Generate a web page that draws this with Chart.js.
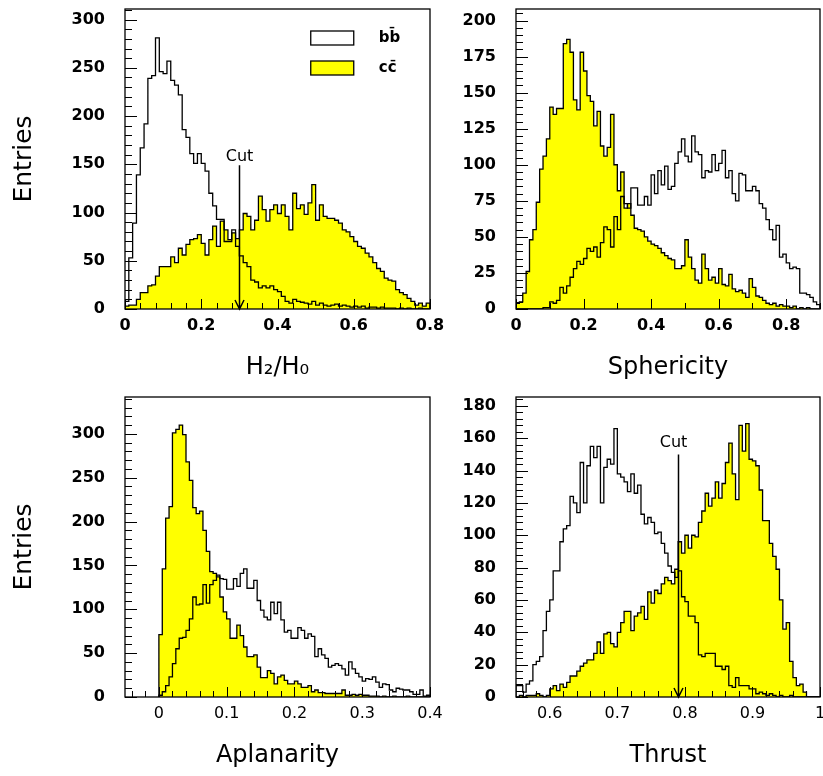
<!DOCTYPE html>
<html>
<head>
<meta charset="utf-8">
<script src="https://cdn.jsdelivr.net/npm/chart.js@4.4.1/dist/chart.umd.min.js"></script>
<style>
    body { margin: 0; background: #fff; width: 823px; height: 776px; position: relative; overflow: hidden; }
    .panel { position: absolute; }
</style>
</head>
<body>
<div class="panel" style="left:0;top:0"><canvas id="h2h0" width="455" height="388"></canvas></div>
<div class="panel" style="left:455px;top:0"><canvas id="sphericity" width="368" height="388"></canvas></div>
<div class="panel" style="left:0;top:388px"><canvas id="aplanarity" width="455" height="388"></canvas></div>
<div class="panel" style="left:455px;top:388px"><canvas id="thrust" width="368" height="388"></canvas></div>
<script>
// H2/H0: 80 bins of 0.01 from 0
const h2h0Lo = 0, h2h0Step = 0.01;
const h2h0BB = [8, 53, 89, 139, 167, 192, 239, 242, 281, 246, 244, 257, 237, 232, 222, 186, 178, 161, 151, 161,
    151, 143, 120, 107, 93, 93, 70, 70, 82, 65, 55, 48, 44, 30, 28, 22, 24, 22, 24, 20,
    18, 13, 8, 6, 10, 8, 7, 6, 5, 8, 4, 6, 4, 3, 4, 5, 3, 4, 3, 2,
    3, 2, 3, 1, 2, 2, 1, 2, 1, 1, 1, 0, 1, 0, 1, 0, 0, 1, 0, 0];
const h2h0CC = [3, 4, 4, 10, 17, 17, 24, 25, 34, 44, 44, 44, 54, 48, 63, 56, 67, 72, 73, 77,
    68, 56, 72, 86, 65, 91, 82, 72, 79, 73, 82, 99, 96, 82, 92, 117, 103, 91, 103, 108,
    99, 108, 96, 82, 120, 104, 108, 98, 110, 129, 92, 108, 96, 94, 94, 92, 89, 82, 80, 75,
    70, 65, 63, 58, 54, 48, 42, 39, 32, 30, 29, 20, 17, 15, 11, 8, 4, 6, 3, 6];

// Sphericity: 90 bins of 0.01 from 0
const sphLo = 0, sphStep = 0.01;
const sphBB = [0, 0, 0, 0, 0, 0, 0, 0, 1, 1, 5, 4, 6, 15, 11, 16, 22, 28, 33, 31,
    35, 42, 40, 43, 36, 46, 57, 55, 43, 64, 55, 78, 73, 70, 84, 84, 72, 72, 78, 72,
    93, 80, 96, 86, 99, 83, 85, 101, 109, 118, 106, 102, 120, 109, 107, 91, 96, 95, 107, 96,
    101, 110, 91, 96, 80, 75, 94, 93, 82, 82, 85, 82, 73, 70, 62, 55, 48, 58, 36, 38,
    32, 28, 29, 28, 11, 11, 10, 8, 5, 3];
const sphCC = [4, 5, 11, 26, 48, 55, 74, 97, 106, 118, 140, 135, 139, 139, 184, 187, 178, 145, 138, 178,
    165, 148, 144, 127, 137, 113, 106, 112, 135, 100, 82, 95, 70, 73, 65, 56, 55, 54, 50, 47,
    45, 44, 42, 39, 37, 35, 34, 28, 28, 30, 48, 36, 28, 20, 18, 38, 28, 20, 22, 18,
    28, 17, 16, 24, 14, 12, 13, 11, 8, 21, 15, 9, 8, 6, 4, 3, 4, 2, 3, 2,
    2, 1, 2, 0, 1, 0, 1, 0, 0, 0];

// Aplanarity: 80 bins of 0.005 from 0
const aplLo = 0, aplStep = 0.005;
const aplBB = [2, 6, 13, 23, 38, 55, 67, 68, 76, 89, 114, 105, 106, 128, 107, 128, 133, 139, 135, 134,
    123, 123, 135, 126, 141, 146, 124, 124, 133, 110, 99, 91, 88, 108, 95, 108, 88, 74, 76, 67,
    67, 79, 76, 67, 72, 69, 46, 55, 48, 44, 34, 36, 38, 36, 32, 25, 40, 32, 27, 23,
    18, 21, 20, 23, 17, 11, 15, 14, 8, 6, 10, 9, 8, 8, 6, 3, 3, 8, 1, 2];
const aplCC = [71, 146, 204, 217, 301, 305, 310, 299, 268, 247, 216, 209, 212, 190, 166, 143, 141, 137, 114, 97,
    89, 67, 67, 82, 70, 57, 46, 46, 48, 34, 22, 22, 30, 27, 15, 23, 25, 19, 15, 15,
    18, 15, 11, 11, 13, 6, 8, 5, 5, 4, 4, 4, 4, 4, 8, 2, 2, 3, 2, 3,
    2, 2, 1, 1, 1, 0, 1, 0, 0, 1, 0, 0, 0, 1, 0, 0, 0, 0, 0, 0];

// Thrust: 90 bins of 0.005 from 0.55
const thrLo = 0.55, thrStep = 0.005;
const thrBB = [7, 7, 3, 8, 10, 20, 22, 25, 41, 53, 60, 78, 78, 96, 104, 106, 124, 120, 114, 145,
    120, 143, 155, 148, 155, 120, 142, 147, 144, 166, 138, 136, 133, 127, 138, 126, 131, 113, 107, 111,
    108, 101, 102, 95, 89, 81, 77, 74, 78, 62, 59, 50, 50, 46, 26, 25, 27, 27, 27, 19,
    19, 17, 19, 7, 6, 12, 7, 7, 7, 5, 5, 2, 3, 2, 1, 2, 1, 0, 1, 0,
    0, 1, 0, 0, 0, 0, 0, 0, 0, 0];
const thrCC = [0, 1, 0, 1, 1, 1, 2, 1, 0, 1, 5, 7, 4, 8, 6, 9, 13, 13, 16, 19,
    21, 23, 23, 27, 34, 27, 39, 40, 33, 31, 40, 46, 53, 53, 41, 50, 52, 56, 48, 65,
    58, 66, 64, 70, 74, 72, 70, 79, 96, 89, 100, 92, 100, 99, 108, 115, 126, 118, 123, 133,
    123, 132, 145, 157, 138, 122, 168, 152, 169, 147, 146, 143, 128, 109, 109, 95, 87, 79, 60, 42,
    46, 22, 12, 7, 8, 3, 0, 0, 0, 0];

const seriesLabels = ['b\u0062\u0304', 'c\u0063\u0304'];

Chart.defaults.font.family = '"DejaVu Sans", sans-serif';
Chart.defaults.color = '#000';

// turn bin contents into outline points for a stepped line
function histPoints(lo, step, counts) {
    const hi = lo + counts.length * step;
    const pts = [{ x: lo, y: 0 }];
    counts.forEach((c, i) => pts.push({ x: lo + i * step, y: c }));
    pts.push({ x: hi, y: counts[counts.length - 1] });
    pts.push({ x: hi, y: 0 });
    return pts;
}

function onStep(v, step) {
    return Math.abs(v / step - Math.round(v / step)) < 1e-6;
}

// frame + inward ticks, PAW style
const frameTicks = {
    id: 'frameTicks',
    afterDatasetsDraw(chart, args, o) {
        const { ctx, chartArea: a, scales: { x, y } } = chart;
        ctx.save();
        ctx.strokeStyle = '#000';
        ctx.lineWidth = 1;
        ctx.beginPath();
        const ny = Math.floor(y.max / o.yMinor + 1e-6);
        for (let i = 0; i <= ny; i++) {
            const v = i * o.yMinor;
            const py = Math.round(y.getPixelForValue(v)) + 0.5;
            ctx.moveTo(a.left, py);
            ctx.lineTo(a.left + (onStep(v, o.yMajor) ? 12 : 7), py);
        }
        const i0 = Math.ceil(x.min / o.xMinor - 1e-6);
        const i1 = Math.floor(x.max / o.xMinor + 1e-6);
        for (let i = i0; i <= i1; i++) {
            const v = i * o.xMinor;
            const px = Math.round(x.getPixelForValue(v)) + 0.5;
            ctx.moveTo(px, a.bottom);
            ctx.lineTo(px, a.bottom - (onStep(v, o.xMajor) ? 10 : 6));
        }
        ctx.stroke();
        ctx.lineWidth = 1.3;
        ctx.strokeRect(a.left, a.top, a.right - a.left, a.bottom - a.top);
        ctx.restore();
    },
};

const cutArrow = {
    id: 'cutArrow',
    afterDatasetsDraw(chart, args, o) {
        if (o.at == null) return;
        const { ctx, scales: { x, y } } = chart;
        const px = Math.round(x.getPixelForValue(o.at)) + 0.5;
        const top = y.getPixelForValue(o.top);
        const bot = y.getPixelForValue(0);
        ctx.save();
        ctx.strokeStyle = '#000';
        ctx.lineWidth = 1.5;
        ctx.beginPath();
        ctx.moveTo(px, top);
        ctx.lineTo(px, bot);
        ctx.moveTo(px - 4.5, bot - 9);
        ctx.lineTo(px, bot);
        ctx.lineTo(px + 4.5, bot - 9);
        ctx.stroke();
        ctx.fillStyle = '#000';
        ctx.font = '16px "DejaVu Sans"';
        ctx.textAlign = 'center';
        ctx.textBaseline = 'alphabetic';
        ctx.fillText('Cut', px + (o.dx || 0), top - o.gap);
        ctx.restore();
    },
};

const boxLegend = {
    id: 'boxLegend',
    afterDatasetsDraw(chart, args, o) {
        if (!o.show) return;
        const { ctx, chartArea: a } = chart;
        const x0 = a.left + o.left * (a.right - a.left);
        ctx.save();
        ctx.lineWidth = 1.3;
        ctx.strokeStyle = '#000';
        ctx.font = 'bold 15px "DejaVu Sans"';
        ctx.textBaseline = 'middle';
        ctx.textAlign = 'left';
        chart.data.datasets.forEach((ds, i) => {
            const y0 = a.top + o.top + i * o.gap;
            ctx.fillStyle = ds.fill ? ds.backgroundColor : '#fff';
            ctx.fillRect(x0, y0, o.w, o.h);
            ctx.strokeRect(x0, y0, o.w, o.h);
            ctx.fillStyle = '#000';
            ctx.fillText(ds.label, x0 + o.w + 25, y0 + o.h / 2);
        });
        ctx.restore();
    },
};

function renderPanel(id, p) {
    const canvas = document.getElementById(id);

    return new Chart(canvas, {
        type: 'line',
        data: {
            datasets: [
                {
                    label: seriesLabels[0],
                    data: histPoints(p.lo, p.step, p.bb),
                    stepped: 'before',
                    borderColor: '#000',
                    borderWidth: 1.3,
                    fill: false,
                    pointRadius: 0,
                    order: 0,
                },
                {
                    label: seriesLabels[1],
                    data: histPoints(p.lo, p.step, p.cc),
                    stepped: 'before',
                    borderColor: '#000',
                    backgroundColor: '#ffff00',
                    borderWidth: 1.3,
                    fill: 'origin',
                    pointRadius: 0,
                    order: 1,
                },
            ],
        },
        options: {
            responsive: false,
            animation: false,
            events: [],
            layout: { padding: { top: 9, right: p.padRight, left: 0, bottom: 0 } },
            plugins: {
                legend: { display: false },
                tooltip: { enabled: false },
                frameTicks: { xMinor: p.xMinor, xMajor: p.xStep, yMinor: p.yMinor, yMajor: p.yStep },
                cutArrow: p.cut || {},
                boxLegend: p.legend || {},
            },
            scales: {
                x: {
                    type: 'linear',
                    min: p.xMin,
                    max: p.xMax,
                    grid: { display: false, drawTicks: false },
                    border: { display: false },
                    ticks: {
                        stepSize: p.xStep,
                        includeBounds: false,
                        padding: 7,
                        maxRotation: 0,
                        autoSkip: false,
                        font: { size: 16, weight: p.xBold ? 'bold' : 'normal', lineHeight: 1.2 },
                        callback: (v) => String(+Number(v).toFixed(2)),
                    },
                    title: {
                        display: true,
                        text: p.xTitle,
                        font: { size: 24, lineHeight: 1.2 },
                        padding: { top: 0, bottom: 6 },
                    },
                    afterBuildTicks: (s) => { s.ticks = s.ticks.filter((t) => onStep(t.value, p.xStep)); },
                    afterFit: (s) => { s.height = 79; s.paddingLeft = 0; s.paddingRight = 0; },
                },
                y: {
                    type: 'linear',
                    min: 0,
                    max: p.yMax,
                    grid: { display: false, drawTicks: false },
                    border: { display: false },
                    ticks: {
                        stepSize: p.yStep,
                        includeBounds: false,
                        padding: 20,
                        font: { size: 16, weight: 'bold', lineHeight: 1.2 },
                    },
                    title: {
                        display: !!p.yTitle,
                        text: p.yTitle || '',
                        font: { size: 25, lineHeight: 1.2 },
                        padding: { top: 9, bottom: 0 },
                    },
                    afterBuildTicks: (s) => { s.ticks = s.ticks.filter((t) => onStep(t.value, p.yStep)); },
                    afterFit: (s) => { s.width = p.yWidth; s.paddingTop = 0; s.paddingBottom = 0; },
                },
            },
        },
        plugins: [frameTicks, cutArrow, boxLegend],
    });
}

renderPanel('h2h0', {
    lo: h2h0Lo, step: h2h0Step, bb: h2h0BB, cc: h2h0CC,
    xMin: 0, xMax: 0.8, xStep: 0.2, xMinor: 0.04, xBold: true, xTitle: 'H\u2082/H\u2080',
    yMax: 311, yStep: 50, yMinor: 10, yTitle: 'Entries', yWidth: 125, padRight: 25,
    cut: { at: 0.3, top: 149, gap: 4, dx: 0 },
    legend: { show: true, left: 0.609, top: 22, gap: 30, w: 43, h: 14 },
});

renderPanel('sphericity', {
    lo: sphLo, step: sphStep, bb: sphBB, cc: sphCC,
    xMin: 0, xMax: 0.9, xStep: 0.2, xMinor: 0.1, xBold: true, xTitle: 'Sphericity',
    yMax: 208, yStep: 25, yMinor: 5, yWidth: 61, padRight: 3,
});

renderPanel('aplanarity', {
    lo: aplLo, step: aplStep, bb: aplBB, cc: aplCC,
    xMin: -0.05, xMax: 0.4, xStep: 0.1, xMinor: 0.02, xBold: false, xTitle: 'Aplanarity',
    yMax: 342, yStep: 50, yMinor: 10, yTitle: 'Entries', yWidth: 125, padRight: 25,
});

renderPanel('thrust', {
    lo: thrLo, step: thrStep, bb: thrBB, cc: thrCC,
    xMin: 0.55, xMax: 1.0, xStep: 0.1, xMinor: 0.02, xBold: false, xTitle: 'Thrust',
    yMax: 185.5, yStep: 20, yMinor: 4, yWidth: 61, padRight: 3,
    cut: { at: 0.79, top: 150, gap: 7, dx: -5 },
});
</script>
</body>
</html>
